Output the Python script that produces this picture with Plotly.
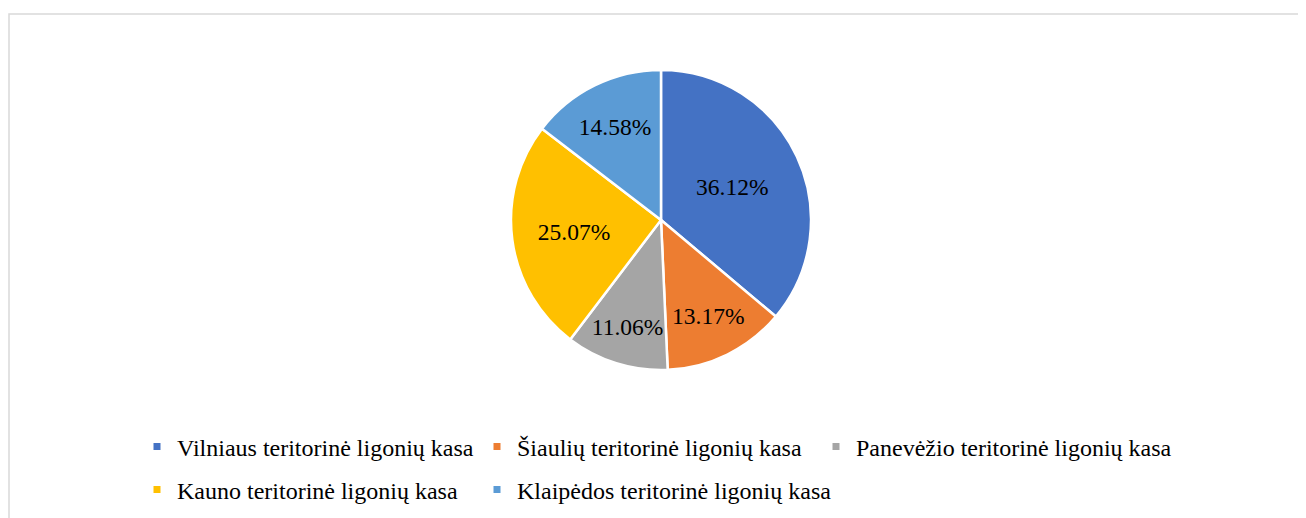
import plotly.graph_objects as go

W, H = 1306, 518
OFF = 8  # page body margin offset

categories = [
    "Vilniaus teritorinė ligonių kasa",
    "Šiaulių teritorinė ligonių kasa",
    "Panevėžio teritorinė ligonių kasa",
    "Kauno teritorinė ligonių kasa",
    "Klaipėdos teritorinė ligonių kasa",
]
shares = [36.12, 13.17, 11.06, 25.07, 14.58]
labels_text = ["36.12%", "13.17%", "11.06%", "25.07%", "14.58%"]
colors = ["#4472C4", "#ED7D31", "#A5A5A5", "#FFC000", "#5B9BD5"]

FONT = "Liberation Serif, Times New Roman, serif"

# legend layout (page pixels): text start x and row center y per entry
legend_text_x = [178, 518, 857, 178, 518]
legend_row_y = [447, 447, 447, 490, 490]

# pie geometry in page pixels
cx, cy, r = 661 - OFF, 220 - OFF, 150

fig = go.Figure()
fig.add_trace(go.Pie(
    labels=categories,
    values=shares,
    text=labels_text,
    textinfo="text",
    textposition="inside",
    insidetextorientation="horizontal",
    sort=False,
    direction="clockwise",
    rotation=0,
    marker=dict(colors=colors, line=dict(color="white", width=2.5)),
    textfont=dict(family=FONT, size=23.5, color="black"),
    showlegend=False,
    hoverinfo="label+percent",
    domain=dict(x=[(cx - r) / W, (cx + r) / W], y=[1 - (cy + r) / H, 1 - (cy - r) / H]),
))

legend_layouts = {}
for i, (name, col) in enumerate(zip(categories, colors)):
    key = "legend" if i == 0 else f"legend{i + 1}"
    fig.add_trace(go.Scatter(
        x=[None], y=[None], mode="markers", name=name,
        marker=dict(symbol="square", size=7, color=col),
        legend=key, showlegend=True,
    ))
    legend_layouts[key] = dict(
        orientation="h", xanchor="left", yanchor="middle",
        x=(legend_text_x[i] - 41 - OFF) / W,
        y=1 - (legend_row_y[i] - OFF) / H,
        font=dict(family=FONT, size=24, color="black"),
        bgcolor="rgba(0,0,0,0)", itemwidth=30,
    )

fig.update_layout(
    width=W, height=H,
    margin=dict(l=0, r=0, t=0, b=0),
    paper_bgcolor="white", plot_bgcolor="white",
    xaxis=dict(visible=False), yaxis=dict(visible=False),
    uniformtext=dict(minsize=23.5, mode="show"),
    shapes=[dict(type="rect", xref="paper", yref="paper",
                 x0=(9 - OFF) / W, y0=-0.05, x1=1.05, y1=1 - (14 - OFF) / H,
                 line=dict(color="#D9D9D9", width=1.5), fillcolor="rgba(0,0,0,0)",
                 layer="below")],
    **legend_layouts,
)

fig.write_html("out.html")
